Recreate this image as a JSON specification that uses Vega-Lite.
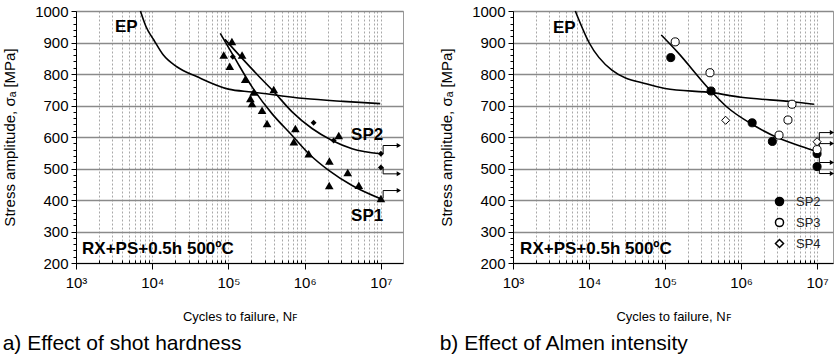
{
  "$schema": "https://vega.github.io/schema/vega-lite/v6.json",
  "background": "white",
  "padding": {"left": 2, "top": 3, "right": 0, "bottom": 0},
  "spacing": 35,
  "config": {
    "font": "Liberation Sans",
    "view": {"stroke": "#9a9a9a", "strokeWidth": 1},
    "title": {"font": "Liberation Sans", "color": "black"},
    "axisX": {"domainColor": "black", "tickColor": "black", "tickSize": 5, "labelFontSize": 15, "labelColor": "black", "titleFontSize": 13, "titleFontWeight": "normal", "titleColor": "black", "labelPadding": 6, "titlePadding": 20, "gridDash": [2, 2], "gridColor": "#a8a8a8", "labelFont": "Liberation Sans", "titleFont": "Liberation Sans", "labelOverlap": false, "labelFlush": false},
    "axisY": {"domainColor": "black", "tickColor": "black", "tickSize": 5, "labelFontSize": 15, "labelColor": "black", "titleFontSize": 15, "titleFontWeight": "normal", "titleColor": "black", "labelPadding": 3, "titlePadding": 17, "gridColor": "#8a8a8a", "gridWidth": 1.3, "labelFont": "Liberation Sans", "titleFont": "Liberation Sans", "labelOverlap": false, "labelFlush": false}
  },
  "datasets": {
    "curvesA": [
      {"c": "EP", "n": 7000, "s": 1000}, {"c": "EP", "n": 8300, "s": 950}, {"c": "EP", "n": 10500, "s": 908}, {"c": "EP", "n": 14000, "s": 860}, {"c": "EP", "n": 21000, "s": 823}, {"c": "EP", "n": 39000, "s": 791}, {"c": "EP", "n": 100000, "s": 752}, {"c": "EP", "n": 204000, "s": 743}, {"c": "EP", "n": 1000000, "s": 722}, {"c": "EP", "n": 3200000, "s": 713}, {"c": "EP", "n": 9800000, "s": 706},
      {"c": "SP1", "n": 78000, "s": 929}, {"c": "SP1", "n": 120000, "s": 852}, {"c": "SP1", "n": 204000, "s": 759}, {"c": "SP1", "n": 370000, "s": 675}, {"c": "SP1", "n": 684000, "s": 605}, {"c": "SP1", "n": 1190000, "s": 542}, {"c": "SP1", "n": 2070000, "s": 494}, {"c": "SP1", "n": 4190000, "s": 446}, {"c": "SP1", "n": 9900000, "s": 404},
      {"c": "SP2", "n": 90000, "s": 910}, {"c": "SP2", "n": 250000, "s": 793}, {"c": "SP2", "n": 373000, "s": 750}, {"c": "SP2", "n": 684000, "s": 680}, {"c": "SP2", "n": 1250000, "s": 627}, {"c": "SP2", "n": 2290000, "s": 589}, {"c": "SP2", "n": 4190000, "s": 563}, {"c": "SP2", "n": 9900000, "s": 547}
    ],
    "ptsA": [
      {"g": "SP1", "n": 86700, "s": 860}, {"g": "SP1", "n": 111000, "s": 903}, {"g": "SP1", "n": 104000, "s": 825}, {"g": "SP1", "n": 151000, "s": 860}, {"g": "SP1", "n": 166000, "s": 783}, {"g": "SP1", "n": 215000, "s": 743}, {"g": "SP1", "n": 194000, "s": 722}, {"g": "SP1", "n": 204000, "s": 706}, {"g": "SP1", "n": 276000, "s": 685}, {"g": "SP1", "n": 321000, "s": 643}, {"g": "SP1", "n": 393000, "s": 751}, {"g": "SP1", "n": 755000, "s": 627}, {"g": "SP1", "n": 720000, "s": 585}, {"g": "SP1", "n": 1130000, "s": 547}, {"g": "SP1", "n": 2110000, "s": 524}, {"g": "SP1", "n": 2100000, "s": 446}, {"g": "SP1", "n": 3670000, "s": 487}, {"g": "SP1", "n": 5130000, "s": 447}, {"g": "SP1", "n": 10000000, "s": 405}, {"g": "SP1", "n": 2800000, "s": 605},
      {"g": "SP2", "n": 114000, "s": 855}, {"g": "SP2", "n": 1310000, "s": 645}, {"g": "SP2", "n": 2400000, "s": 589}, {"g": "SP2", "n": 10000000, "s": 547}, {"g": "SP2", "n": 10000000, "s": 503}
    ],
    "vertA": [
      {"n": 10700000, "s": 547, "s2": 573},
      {"n": 10700000, "s": 503, "s2": 483},
      {"n": 10700000, "s": 405, "s2": 430}
    ],
    "horA": [
      {"n": 10700000, "n2": 17200000, "s": 573},
      {"n": 10700000, "n2": 17200000, "s": 483},
      {"n": 10700000, "n2": 17200000, "s": 430}
    ],
    "headA": [
      {"n": 17200000, "s": 573},
      {"n": 17200000, "s": 483},
      {"n": 17200000, "s": 430}
    ],
    "notesA": [
      {"t": "EP", "n": 3250, "s": 950, "k": "big"},
      {"t": "RX+PS+0.5h 500ºC", "n": 1200, "s": 245, "k": "big"},
      {"t": "SP2", "n": 4060000, "s": 605, "k": "sp"},
      {"t": "SP1", "n": 4060000, "s": 349, "k": "sp"}
    ],
    "curvesB": [
      {"c": "EP", "n": 6600, "s": 1000}, {"c": "EP", "n": 10000, "s": 900}, {"c": "EP", "n": 20000, "s": 812}, {"c": "EP", "n": 58000, "s": 768}, {"c": "EP", "n": 100000, "s": 754}, {"c": "EP", "n": 434000, "s": 740}, {"c": "EP", "n": 1000000, "s": 726}, {"c": "EP", "n": 4800000, "s": 712}, {"c": "EP", "n": 9100000, "s": 704},
      {"c": "SP2", "n": 89000, "s": 924}, {"c": "SP2", "n": 144000, "s": 871}, {"c": "SP2", "n": 391000, "s": 749}, {"c": "SP2", "n": 646000, "s": 696}, {"c": "SP2", "n": 1450000, "s": 638}, {"c": "SP2", "n": 3210000, "s": 595}, {"c": "SP2", "n": 8790000, "s": 558}, {"c": "SP2", "n": 10000000, "s": 553}
    ],
    "ptsB": [
      {"g": "SP2", "n": 119000, "s": 852}, {"g": "SP2", "n": 403000, "s": 746}, {"g": "SP2", "n": 1400000, "s": 645}, {"g": "SP2", "n": 2580000, "s": 586}, {"g": "SP2", "n": 10000000, "s": 547}, {"g": "SP2", "n": 10000000, "s": 506},
      {"g": "SP3", "n": 136000, "s": 902}, {"g": "SP3", "n": 390000, "s": 804}, {"g": "SP3", "n": 4680000, "s": 704}, {"g": "SP3", "n": 4140000, "s": 654}, {"g": "SP3", "n": 3160000, "s": 606}, {"g": "SP3", "n": 10000000, "s": 560},
      {"g": "SP4", "n": 627000, "s": 653}, {"g": "SP4", "n": 10000000, "s": 585}
    ],
    "vertB": [
      {"n": 10700000, "s": 585, "s2": 614},
      {"n": 10700000, "s": 560, "s2": 579},
      {"n": 10700000, "s": 547, "s2": 519},
      {"n": 10700000, "s": 506, "s2": 484}
    ],
    "horB": [
      {"n": 10700000, "n2": 15700000, "s": 614},
      {"n": 10700000, "n2": 15700000, "s": 579},
      {"n": 10700000, "n2": 15700000, "s": 519},
      {"n": 10700000, "n2": 15700000, "s": 484}
    ],
    "headB": [
      {"n": 15700000, "s": 614},
      {"n": 15700000, "s": 579},
      {"n": 15700000, "s": 519},
      {"n": 15700000, "s": 484}
    ],
    "notesB": [
      {"t": "EP", "n": 3360, "s": 945, "k": "big"},
      {"t": "RX+PS+0.5h 500ºC", "n": 1240, "s": 245, "k": "big"}
    ]
  },
  "hconcat": [
    {
      "width": 327,
      "height": 252,
      "title": {"text": "a) Effect of shot hardness", "orient": "bottom", "anchor": "start", "frame": "bounds", "fontSize": 21, "fontWeight": "normal", "offset": 10},
      "encoding": {
        "x": {"field": "n", "type": "quantitative", "scale": {"type": "log", "domain": [1000, 19500000], "nice": false},
          "axis": {"title": "Cycles to failure, Nꜰ", "grid": true,
            "values": [1000, 2000, 3000, 4000, 5000, 6000, 7000, 8000, 9000, 10000, 20000, 30000, 40000, 50000, 60000, 70000, 80000, 90000, 100000, 200000, 300000, 400000, 500000, 600000, 700000, 800000, 900000, 1000000, 2000000, 3000000, 4000000, 5000000, 6000000, 7000000, 8000000, 9000000, 10000000],
            "labelExpr": "datum.value == 1000 ? '10³' : datum.value == 10000 ? '10⁴' : datum.value == 100000 ? '10⁵' : datum.value == 1000000 ? '10⁶' : datum.value == 10000000 ? '10⁷' : ''",
            "tickSize": {"condition": {"test": "indexof([1000,10000,100000,1000000,10000000], datum.value) >= 0", "value": 6}, "value": -3}}},
        "y": {"field": "s", "type": "quantitative", "scale": {"domain": [200, 1000], "nice": false},
          "axis": {"title": "Stress amplitude, σₐ [MPa]", "grid": true,
            "values": [200, 220, 240, 260, 280, 300, 320, 340, 360, 380, 400, 420, 440, 460, 480, 500, 520, 540, 560, 580, 600, 620, 640, 660, 680, 700, 720, 740, 760, 780, 800, 820, 840, 860, 880, 900, 920, 940, 960, 980, 1000],
            "labelExpr": "datum.value % 100 == 0 ? format(datum.value, 'd') : ''",
            "gridOpacity": {"condition": {"test": "datum.value % 100 == 0", "value": 1}, "value": 0},
            "tickSize": {"condition": {"test": "datum.value % 100 == 0", "value": 5}, "value": 3}}}
      },
      "layer": [
        {
          "data": {"name": "curvesA"},
          "mark": {"type": "line", "color": "black", "strokeWidth": 1.6, "interpolate": "monotone"},
          "encoding": {"detail": {"field": "c", "type": "nominal"}}
        },
        {
          "data": {"name": "vertA"},
          "mark": {"type": "rule", "color": "black", "strokeWidth": 1},
          "encoding": {"y2": {"field": "s2"}}
        },
        {
          "data": {"name": "horA"},
          "mark": {"type": "rule", "color": "black", "strokeWidth": 1},
          "encoding": {"x2": {"field": "n2"}}
        },
        {
          "data": {"name": "headA"},
          "mark": {"type": "point", "shape": "triangle-right", "filled": true, "color": "black", "size": 25, "opacity": 1}
        },
        {
          "data": {"name": "ptsA"},
          "transform": [{"filter": "datum.g == 'SP1'"}],
          "mark": {"type": "point", "shape": "triangle-up", "filled": true, "color": "black", "size": 75, "opacity": 1}
        },
        {
          "data": {"name": "ptsA"},
          "transform": [{"filter": "datum.g == 'SP2'"}],
          "mark": {"type": "point", "shape": "diamond", "filled": true, "color": "black", "size": 35, "opacity": 1}
        },
        {
          "data": {"name": "notesA"},
          "transform": [{"filter": "datum.k == 'big'"}],
          "mark": {"type": "text", "align": "left", "baseline": "middle", "fontSize": 17, "fontWeight": "bold", "font": "Liberation Sans", "color": "black"},
          "encoding": {"text": {"field": "t"}}
        },
        {
          "data": {"name": "notesA"},
          "transform": [{"filter": "datum.k == 'sp'"}],
          "mark": {"type": "text", "align": "left", "baseline": "middle", "fontSize": 17, "fontWeight": "bold", "font": "Liberation Sans", "color": "black"},
          "encoding": {"text": {"field": "t"}}
        }
      ]
    },
    {
      "width": 320,
      "height": 252,
      "title": {"text": "b) Effect of Almen intensity", "orient": "bottom", "anchor": "start", "frame": "bounds", "fontSize": 21, "fontWeight": "normal", "offset": 10},
      "encoding": {
        "x": {"field": "n", "type": "quantitative", "scale": {"type": "log", "domain": [1000, 16200000], "nice": false},
          "axis": {"title": "Cycles to failure, Nꜰ", "grid": true,
            "values": [1000, 2000, 3000, 4000, 5000, 6000, 7000, 8000, 9000, 10000, 20000, 30000, 40000, 50000, 60000, 70000, 80000, 90000, 100000, 200000, 300000, 400000, 500000, 600000, 700000, 800000, 900000, 1000000, 2000000, 3000000, 4000000, 5000000, 6000000, 7000000, 8000000, 9000000, 10000000],
            "labelExpr": "datum.value == 1000 ? '10³' : datum.value == 10000 ? '10⁴' : datum.value == 100000 ? '10⁵' : datum.value == 1000000 ? '10⁶' : datum.value == 10000000 ? '10⁷' : ''",
            "tickSize": {"condition": {"test": "indexof([1000,10000,100000,1000000,10000000], datum.value) >= 0", "value": 6}, "value": -3}}},
        "y": {"field": "s", "type": "quantitative", "scale": {"domain": [200, 1000], "nice": false},
          "axis": {"title": "Stress amplitude, σₐ [MPa]", "grid": true,
            "values": [200, 220, 240, 260, 280, 300, 320, 340, 360, 380, 400, 420, 440, 460, 480, 500, 520, 540, 560, 580, 600, 620, 640, 660, 680, 700, 720, 740, 760, 780, 800, 820, 840, 860, 880, 900, 920, 940, 960, 980, 1000],
            "labelExpr": "datum.value % 100 == 0 ? format(datum.value, 'd') : ''",
            "gridOpacity": {"condition": {"test": "datum.value % 100 == 0", "value": 1}, "value": 0},
            "tickSize": {"condition": {"test": "datum.value % 100 == 0", "value": 5}, "value": 3}}}
      },
      "layer": [
        {
          "data": {"name": "curvesB"},
          "mark": {"type": "line", "color": "black", "strokeWidth": 1.6, "interpolate": "monotone"},
          "encoding": {"detail": {"field": "c", "type": "nominal"}}
        },
        {
          "data": {"name": "vertB"},
          "mark": {"type": "rule", "color": "black", "strokeWidth": 1},
          "encoding": {"y2": {"field": "s2"}}
        },
        {
          "data": {"name": "horB"},
          "mark": {"type": "rule", "color": "black", "strokeWidth": 1},
          "encoding": {"x2": {"field": "n2"}}
        },
        {
          "data": {"name": "headB"},
          "mark": {"type": "point", "shape": "triangle-right", "filled": true, "color": "black", "size": 25, "opacity": 1}
        },
        {
          "data": {"name": "ptsB"},
          "mark": {"type": "point", "stroke": "black", "strokeWidth": 1, "size": 65, "opacity": 1, "filled": true},
          "encoding": {
            "shape": {"field": "g", "type": "nominal", "scale": {"domain": ["SP2", "SP3", "SP4"], "range": ["circle", "circle", "diamond"]},
              "legend": {"orient": "bottom-right", "title": null, "labelFontSize": 13, "labelColor": "#222", "labelFont": "Liberation Sans", "symbolSize": 65, "rowPadding": 6, "offset": 12, "labelOffset": 10,
                "encode": {"symbols": {"update": {"stroke": {"value": "black"}, "strokeWidth": {"value": 1}}}}}},
            "fill": {"field": "g", "type": "nominal", "scale": {"domain": ["SP2", "SP3", "SP4"], "range": ["black", "white", "white"]},
              "legend": {"orient": "bottom-right", "title": null, "labelFontSize": 13, "labelColor": "#222", "labelFont": "Liberation Sans", "symbolSize": 65, "rowPadding": 6, "offset": 12, "labelOffset": 10,
                "encode": {"symbols": {"update": {"stroke": {"value": "black"}, "strokeWidth": {"value": 1}}}}}}
          }
        },
        {
          "data": {"name": "notesB"},
          "mark": {"type": "text", "align": "left", "baseline": "middle", "fontSize": 17, "fontWeight": "bold", "font": "Liberation Sans", "color": "black"},
          "encoding": {"text": {"field": "t"}}
        }
      ]
    }
  ],
  "resolve": {"scale": {"shape": "independent", "fill": "independent", "x": "independent", "y": "independent"}}
}
